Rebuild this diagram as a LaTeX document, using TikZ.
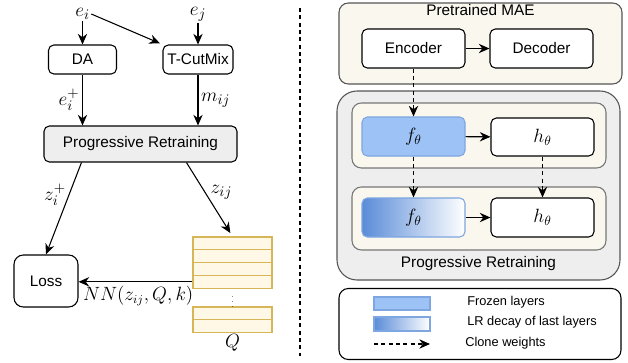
\documentclass[tikz,border=0pt]{standalone}
\usepackage{fontspec}
\setmainfont{Liberation Sans}
\usepackage{tikz}
\usetikzlibrary{arrows.meta, positioning, calc}
\definecolor{pr-gray}{HTML}{EEEEEE}
\definecolor{pr-border}{HTML}{555555}
\definecolor{mae-beige}{HTML}{F9F7EE}
\definecolor{frz-blue}{HTML}{9DC3F6}
\definecolor{frz-border}{HTML}{7EA6E0}
\definecolor{lr-blue}{HTML}{5A8CD8}
\definecolor{q-fill}{HTML}{FFF8E6}
\definecolor{q-border}{HTML}{D6B656}
\newdimen\px \px=0.75pt

\begin{document}
\begin{tikzpicture}[
		x=0.75pt, y=-0.75pt,
		blk/.style={
			draw=black, fill=white,
			rounded corners=4pt,
			line width=0.8pt,
			inner sep=0pt,
			font=\fontsize{11.5}{13.8}\selectfont
		},
		grp/.style={
			draw=pr-border, fill=mae-beige,
			rounded corners=7pt,
			line width=0.8pt,
			inner sep=0pt
		},
		lbl/.style={
			inner sep=1pt,
			font=\fontsize{15}{17}\selectfont
		},
		qrow/.style={
			draw=q-border, fill=q-fill,
			line width=0.8pt,
			minimum width=79\px, minimum height=12.8\px,
			inner sep=0pt
		},
		legtxt/.style={
			anchor=west, inner sep=0pt,
			font=\fontsize{9.6}{11.5}\selectfont
		},
		arr/.style={-{Stealth[length=8pt,width=7pt]}, line width=0.8pt},
		dasharr/.style={arr, dashed, dash pattern=on 3pt off 2.5pt}
		]
		
		\useasboundingbox (0,0) rectangle (628,362);
		
		% left part - inputs
		\node[lbl] (ei) at (82.5,14) {$e_i$};
		\node[lbl] (ej) at (198,14) {$e_j$};
		\node[blk, minimum width=68\px, minimum height=29\px] (da) at (82.5,59.5) {DA};
		\node[blk, minimum width=70\px, minimum height=29\px] (cut) at (198,59.5) {T-CutMix};
		\node[blk, fill=pr-gray, minimum width=193\px, minimum height=36\px] (prl) at (140.5,144) {Progressive Retraining};
		\node[blk, rounded corners=7pt, minimum width=64\px, minimum height=52\px] (loss) at (46,281) {Loss};
		
		% queue Q
		\foreach \i in {0,...,3}
		\node[qrow] (q\i) at (232.5,243.4+12.8*\i) {};
		\node[qrow] (q4) at (232.5,313.4) {};
		\node[qrow] (q5) at (232.5,326.2) {};
		\node[inner sep=0pt, font=\tiny] (qdots) at (232.5,298) {$\vdots$};
		\node[lbl, below=0pt of q5] (qlbl) {$Q$};
		
		\draw[arr] (ei) -- (da);
		\draw[arr, shorten >=2pt] (ei.east) -- (cut.north west);
		\draw[arr] (ej) -- (cut);
		\draw[arr] (da.south) -- (da.south |- prl.north) node[lbl, midway, left=1pt] {$e_i^+$};
		\draw[arr] (cut.south) -- (cut.south |- prl.north) node[lbl, midway, right=1pt] {$m_{ij}$};
		\draw[arr] ($(prl.south west)+(38,0)$) -- (loss.north) node[lbl, pos=0.35, left=1pt] {$z_i^+$};
		\draw[arr, shorten >=3pt] ($(prl.south west)+(143,0)$) -- (q0.north) node[lbl, pos=0.4, right=3pt] {$z_{ij}$};
		\draw[arr] (q3.west) -- (loss.east |- q3.west) node[lbl, midway, below=2pt, xshift=2pt, font=\fontsize{13.5}{16}\selectfont] {$NN(z_{ij},Q,k)$};
		
		% separator
		\draw[line width=1.2pt, dash pattern=on 3pt off 2.5pt] (300,8) -- (300,356);
		
		% right part - pretrained MAE
		\node[grp, minimum width=283\px, minimum height=81\px] (mae) at (480.5,43.5) {};
		\node[below=1pt of mae.north, inner sep=0pt, font=\fontsize{11.5}{13.8}\selectfont] (maelbl) {Pretrained MAE};
		\node[blk, minimum width=103\px, minimum height=39\px] (enc) at (413.5,48.5) {Encoder};
		\node[blk, minimum width=103\px, minimum height=39\px] (dec) at (541.5,48.5) {Decoder};
		\draw[arr] (enc) -- (dec);
		
		% progressive retraining
		\node[grp, fill=pr-gray, rounded corners=15pt, minimum width=283\px, minimum height=189\px] (prr) at (478.5,185.5) {};
		\node[grp, draw=pr-border!80, minimum width=254\px, minimum height=65\px] (st1) at (479,135.5) {};
		\node[grp, draw=pr-border!80, minimum width=254\px, minimum height=63\px] (st2) at (479,218.5) {};
		\node[blk, draw=frz-border, fill=frz-blue, minimum width=103\px, minimum height=39\px, font=\fontsize{14}{16}\selectfont] (f1) at (413.5,136.5) {$f_\theta$};
		\node[blk, minimum width=103\px, minimum height=38\px, font=\fontsize{14}{16}\selectfont] (h1) at (542.5,137) {$h_\theta$};
		\node[blk, draw=frz-border, left color=lr-blue, right color=white, minimum width=103\px, minimum height=39\px, font=\fontsize{14}{16}\selectfont] (f2) at (413.5,217.5) {$f_\theta$};
		\node[blk, minimum width=103\px, minimum height=39\px, font=\fontsize{14}{16}\selectfont] (h2) at (542.5,217.5) {$h_\theta$};
		\node[above=7pt of prr.south, inner sep=0pt, font=\fontsize{11.5}{13.8}\selectfont] (prrlbl) {Progressive Retraining};
		\draw[arr] (f1) -- (h1);
		\draw[arr] (f2) -- (h2);
		\draw[dasharr] (enc.south) -- (f1.north);
		\draw[dasharr] (f1.south) -- (f2.north);
		\draw[dasharr] (h1.south) -- (h2.north);
		
		% legend
		\node[blk, rounded corners=7pt, minimum width=282\px, minimum height=71\px] (leg) at (480,324) {};
		\node[draw=frz-border, fill=frz-blue, line width=0.8pt, minimum width=56\px, minimum height=13\px, inner sep=0pt] (sw1) at (402,303.5) {};
		\node[draw=frz-border, left color=lr-blue, right color=white, line width=0.8pt, minimum width=56\px, minimum height=14\px, inner sep=0pt] (sw2) at (402,324) {};
		\coordinate (cl1) at (374,344);
		\coordinate (cl2) at (430,344);
		\draw[dasharr] (cl1) -- (cl2);
		\node[legtxt] (lt1) at (467,302) {Frozen layers};
		\node[legtxt] (lt2) at (467,322) {LR decay of last layers};
		\node[legtxt] (lt3) at (465,343) {Clone weights};
		
	\end{tikzpicture}
\end{document}
